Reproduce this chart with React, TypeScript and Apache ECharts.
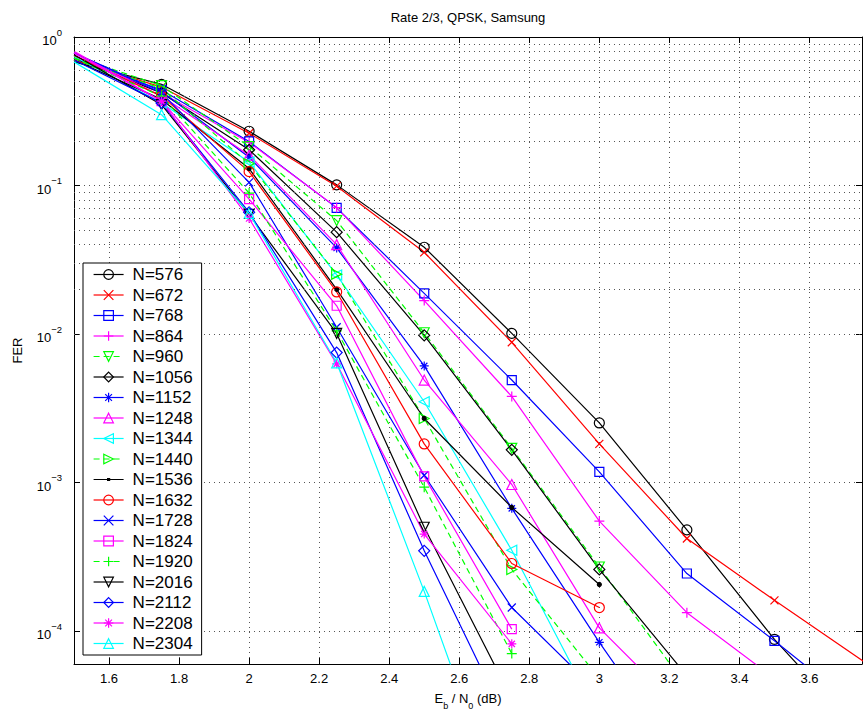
import React, { useEffect, useRef } from 'react';
import * as echarts from 'echarts';

// ---------- data ----------
const EBNO = [1.5, 1.75, 2, 2.25, 2.5, 2.75, 3, 3.25, 3.5, 3.75, 4];
const X_TICKS = [1.6, 1.8, 2, 2.2, 2.4, 2.6, 2.8, 3, 3.2, 3.4, 3.6];
const Y_DECADES = [-5, -4, -3, -2, -1];
const MINOR_MULT = [2, 3, 4, 5, 6, 7, 8, 9];
const Y_MIN = 6e-5;
const Y_MAX = 1;

const N_LABELS = [
  'N=576', 'N=672', 'N=768', 'N=864', 'N=960', 'N=1056', 'N=1152', 'N=1248', 'N=1344', 'N=1440',
  'N=1536', 'N=1632', 'N=1728', 'N=1824', 'N=1920', 'N=2016', 'N=2112', 'N=2208', 'N=2304',
];

const FER_576 = [0.68, 0.48, 0.232, 0.101, 0.0384, 0.0101, 0.00252, 4.8e-4, 8.8e-5, 2.0e-5];
const FER_672 = [0.70, 0.46, 0.225, 0.099, 0.0355, 0.0088, 0.00182, 4.2e-4, 1.61e-4, null, 2.5e-5];
const FER_768 = [0.72, 0.44, 0.198, 0.0707, 0.0188, 0.0049, 0.00118, 2.44e-4, 8.6e-5, 2.9e-5];
const FER_864 = [0.75, 0.42, 0.195, 0.071, 0.0168, 0.0038, 5.5e-4, 1.33e-4, 4.8e-5];
const FER_960 = [0.74, 0.47, 0.183, 0.058, 0.0102, 0.0017, 2.7e-4, 4.2e-5];
const FER_1056 = [0.72, 0.42, 0.174, 0.0485, 0.0098, 0.00166, 2.6e-4, 5.0e-5];
const FER_1152 = [0.78, 0.43, 0.155, 0.038, 0.0061, 6.7e-4, 8.4e-5, 1.2e-5];
const FER_1248 = [0.78, 0.40, 0.16, 0.040, 0.0049, 9.7e-4, 1.05e-4, 2.7e-5];
const FER_1344 = [0.74, 0.36, 0.144, 0.025, 0.0035, 3.5e-4, 2.6e-5];
const FER_1440 = [0.72, 0.45, 0.14, 0.0253, 0.0027, 2.6e-4, 4.8e-5];
const FER_1536 = [0.70, 0.38, 0.13, 0.020, 0.0027, 6.8e-4, 2.06e-4];
const FER_1632 = [0.75, 0.40, 0.124, 0.0192, 0.00182, 2.85e-4, 1.44e-4];
const FER_1728 = [0.78, 0.42, 0.105, 0.0111, 0.00112, 1.44e-4, 3.8e-5];
const FER_1824 = [0.80, 0.37, 0.081, 0.0155, 0.0011, 1.03e-4];
const FER_1920 = [0.72, 0.40, 0.089, 0.0105, 9.3e-4, 7.05e-5];
const FER_2016 = [0.76, 0.35, 0.064, 0.0101, 5.0e-4, 3.5e-5];
const FER_2112 = [0.70, 0.36, 0.066, 0.0075, 3.47e-4, 2.1e-5];
const FER_2208 = [0.78, 0.37, 0.060, 0.0063, 4.5e-4, 8.2e-5];
const FER_2304 = [0.68, 0.30, 0.065, 0.0064, 1.85e-4, 4.2e-6];

const SERIES_VALUES = [
  FER_576, FER_672, FER_768, FER_864, FER_960, FER_1056, FER_1152, FER_1248, FER_1344, FER_1440,
  FER_1536, FER_1632, FER_1728, FER_1824, FER_1920, FER_2016, FER_2112, FER_2208, FER_2304,
];

// ---------- styles ----------
const SYM: Record<string, string> = {
  circle: 'path://M10,5 A5,5 0 1,1 0,5 A5,5 0 1,1 10,5 Z',
  x: 'path://M0,0 L10,10 M10,0 L0,10',
  square: 'path://M0,0 L10,0 L10,10 L0,10 Z',
  plus: 'path://M5,0 L5,10 M0,5 L10,5',
  triDown: 'path://M0,0 L10,0 L5,10 Z',
  diamond: 'path://M5,0 L10,5 L5,10 L0,5 Z',
  star: 'path://M5,0 L5,10 M0,5 L10,5 M1.5,1.5 L8.5,8.5 M8.5,1.5 L1.5,8.5',
  triUp: 'path://M5,0 L10,10 L0,10 Z',
  triLeft: 'path://M0,5 L10,0 L10,10 Z',
  triRight: 'path://M0,0 L10,5 L0,10 Z',
};
// legend icon for the "." marker: a line with a tiny dot (corner stubs fix the icon box)
const DOT_LEGEND_ICON = 'path://M0,0 L0,0 M30,12 L30,12 M0,6 L30,6 M14,5 L16,5 L16,7 L14,7 Z';

const K = '#000000', R = '#ff0000', B = '#0000ff', M = '#ff00ff', G = '#00ff00', C = '#00ffff';

const STYLES = [
  { color: K, symbol: SYM.circle, size: 10 },
  { color: R, symbol: SYM.x, size: 8 },
  { color: B, symbol: SYM.square, size: 9 },
  { color: M, symbol: SYM.plus, size: 10 },
  { color: G, symbol: SYM.triDown, size: 10, dashed: true },
  { color: K, symbol: SYM.diamond, size: 11 },
  { color: B, symbol: SYM.star, size: 9 },
  { color: M, symbol: SYM.triUp, size: 10 },
  { color: C, symbol: SYM.triLeft, size: 10 },
  { color: G, symbol: SYM.triRight, size: 10, dashed: true },
  { color: K, symbol: 'circle', size: 4, fill: K, legendIcon: DOT_LEGEND_ICON },
  { color: R, symbol: SYM.circle, size: 10 },
  { color: B, symbol: SYM.x, size: 8 },
  { color: M, symbol: SYM.square, size: 9 },
  { color: G, symbol: SYM.plus, size: 10, dashed: true },
  { color: K, symbol: SYM.triDown, size: 10 },
  { color: B, symbol: SYM.diamond, size: 11 },
  { color: M, symbol: SYM.star, size: 9 },
  { color: C, symbol: SYM.triUp, size: 10 },
];

const FONT = '"Liberation Sans", Arial, Helvetica, sans-serif';
const LINE_W = 1.2;
const DASH = [6, 4];

function buildOption() {
  const minorGrid: number[] = [];
  Y_DECADES.forEach((d) => {
    MINOR_MULT.forEach((m) => {
      const v = m * Math.pow(10, d);
      if (v > Y_MIN && v < Y_MAX) minorGrid.push(v);
    });
  });

  const dataSeries = N_LABELS.map((name, i) => {
    const st: any = STYLES[i];
    const vals = SERIES_VALUES[i];
    const data: any[] = [];
    EBNO.forEach((x, j) => {
      const v = vals[j];
      if (v == null) return;
      data.push(j === 0 ? { value: [x, v], symbol: 'none' } : [x, v]);
    });
    return {
      type: 'line',
      name,
      data,
      symbol: st.symbol,
      symbolSize: st.size,
      showSymbol: true,
      clip: true,
      z: 3,
      lineStyle: { color: st.color, width: LINE_W, type: st.dashed ? DASH : 'solid' },
      itemStyle: { color: st.fill || 'none', borderColor: st.color, borderWidth: LINE_W },
      emphasis: { disabled: true },
    };
  });

  const legendData = N_LABELS.map((name, i) => {
    const st: any = STYLES[i];
    const item: any = {
      name,
      itemStyle: { color: st.fill || 'none', borderColor: st.color, borderWidth: LINE_W },
      lineStyle: { color: st.color, width: LINE_W, type: st.dashed ? DASH : 'solid' },
    };
    if (st.legendIcon) item.icon = st.legendIcon;
    return item;
  });

  const gridLine = { type: [1, 4], color: '#555', width: 1 };

  const isXTick = (v: number) => X_TICKS.some((t) => Math.abs(t - v) < 1e-6);

  return {
    animation: false,
    backgroundColor: '#ffffff',
    grid: { left: 74, right: 1, top: 37, bottom: 53, containLabel: false },
    graphic: [
      {
        type: 'text',
        x: 468,
        y: 17,
        silent: true,
        style: {
          text: 'Rate 2/3, QPSK, Samsung',
          font: '13px ' + FONT,
          fill: '#000',
          align: 'center',
          verticalAlign: 'middle',
          textAlign: 'center',
          textVerticalAlign: 'middle',
        },
      },
    ],
    legend: {
      data: legendData,
      orient: 'vertical',
      left: 83,
      top: 263,
      itemWidth: 30,
      itemHeight: 12,
      itemGap: 3.5,
      padding: [3, 9, 3, 10],
      backgroundColor: '#ffffff',
      borderColor: '#000000',
      borderWidth: 1,
      borderRadius: 0,
      selectedMode: false,
      textStyle: { fontFamily: FONT, fontSize: 17, lineHeight: 17, color: '#000', padding: [0, 0, 0, 4] },
      z: 10,
    },
    xAxis: [
      {
        type: 'value',
        min: 1.5,
        max: 3.75,
        splitNumber: 11,
        position: 'bottom',
        axisLine: { show: true, onZero: false, lineStyle: { color: '#000', width: 1 } },
        axisTick: { show: true, inside: true, length: 6, lineStyle: { color: '#000' } },
        axisLabel: {
          color: '#000',
          fontFamily: FONT,
          fontSize: 13,
          margin: 8,
          showMinLabel: false,
          showMaxLabel: false,
          formatter: (v: number) => (isXTick(v) ? String(+v.toFixed(1)) : ''),
        },
        splitLine: { show: true, lineStyle: gridLine },
        name: '{b|E}{s|b}{b| / N}{s|0}{b| (dB)}',
        nameLocation: 'middle',
        nameGap: 28,
        nameTextStyle: {
          rich: {
            b: { fontFamily: FONT, fontSize: 13, color: '#000', lineHeight: 18, verticalAlign: 'top' },
            s: { fontFamily: FONT, fontSize: 9, color: '#000', lineHeight: 18, verticalAlign: 'bottom' },
          },
        },
      },
      {
        type: 'value',
        min: 1.5,
        max: 3.75,
        splitNumber: 11,
        position: 'top',
        axisLine: { show: true, onZero: false, lineStyle: { color: '#000', width: 1 } },
        axisTick: { show: true, inside: true, length: 6, lineStyle: { color: '#000' } },
        axisLabel: { show: false },
        splitLine: { show: false },
      },
    ],
    yAxis: [
      {
        type: 'log',
        logBase: 10,
        min: Y_MIN,
        max: Y_MAX,
        position: 'left',
        axisLine: { show: true, onZero: false, lineStyle: { color: '#000', width: 1 } },
        axisTick: { show: true, inside: true, length: 6, lineStyle: { color: '#000' } },
        axisLabel: {
          margin: 12,
          showMinLabel: false,
          formatter: (v: number) => {
            const l = Math.log10(v);
            const e = Math.round(l);
            if (Math.abs(l - e) > 1e-6) return '';
            return '{b|10}{s|' + (e < 0 ? '\u2212' + -e : String(e)) + '}';
          },
          rich: {
            b: { fontFamily: FONT, fontSize: 13, color: '#000', lineHeight: 20, verticalAlign: 'bottom' },
            s: { fontFamily: FONT, fontSize: 9.5, color: '#000', lineHeight: 20, verticalAlign: 'top' },
          },
        },
        splitLine: { show: true, lineStyle: gridLine },
        name: 'FER',
        nameLocation: 'middle',
        nameGap: 50,
        nameTextStyle: { fontFamily: FONT, fontSize: 13, color: '#000' },
      },
      {
        type: 'log',
        logBase: 10,
        min: Y_MIN,
        max: Y_MAX,
        position: 'right',
        axisLine: { show: true, onZero: false, lineStyle: { color: '#000', width: 1 } },
        axisTick: { show: true, inside: true, length: 6, lineStyle: { color: '#000' } },
        axisLabel: { show: false },
        splitLine: { show: false },
      },
    ],
    series: [
      {
        type: 'line',
        name: '_minor_grid',
        data: [],
        silent: true,
        z: 1,
        markLine: {
          silent: true,
          symbol: ['none', 'none'],
          label: { show: false },
          emphasis: { disabled: true },
          lineStyle: gridLine,
          data: minorGrid.map((v) => ({ yAxis: v })),
        },
      },
      ...dataSeries,
    ],
  };
}

export default function App() {
  const ref = useRef<HTMLDivElement>(null);
  useEffect(() => {
    if (!ref.current) return;
    const chart = echarts.init(ref.current, null, { renderer: 'svg' });
    chart.setOption(buildOption() as any);
    return () => chart.dispose();
  }, []);
  return (
    <div
      ref={ref}
      style={{ position: 'fixed', left: 0, top: 0, width: 863, height: 717, background: '#fff' }}
    />
  );
}
